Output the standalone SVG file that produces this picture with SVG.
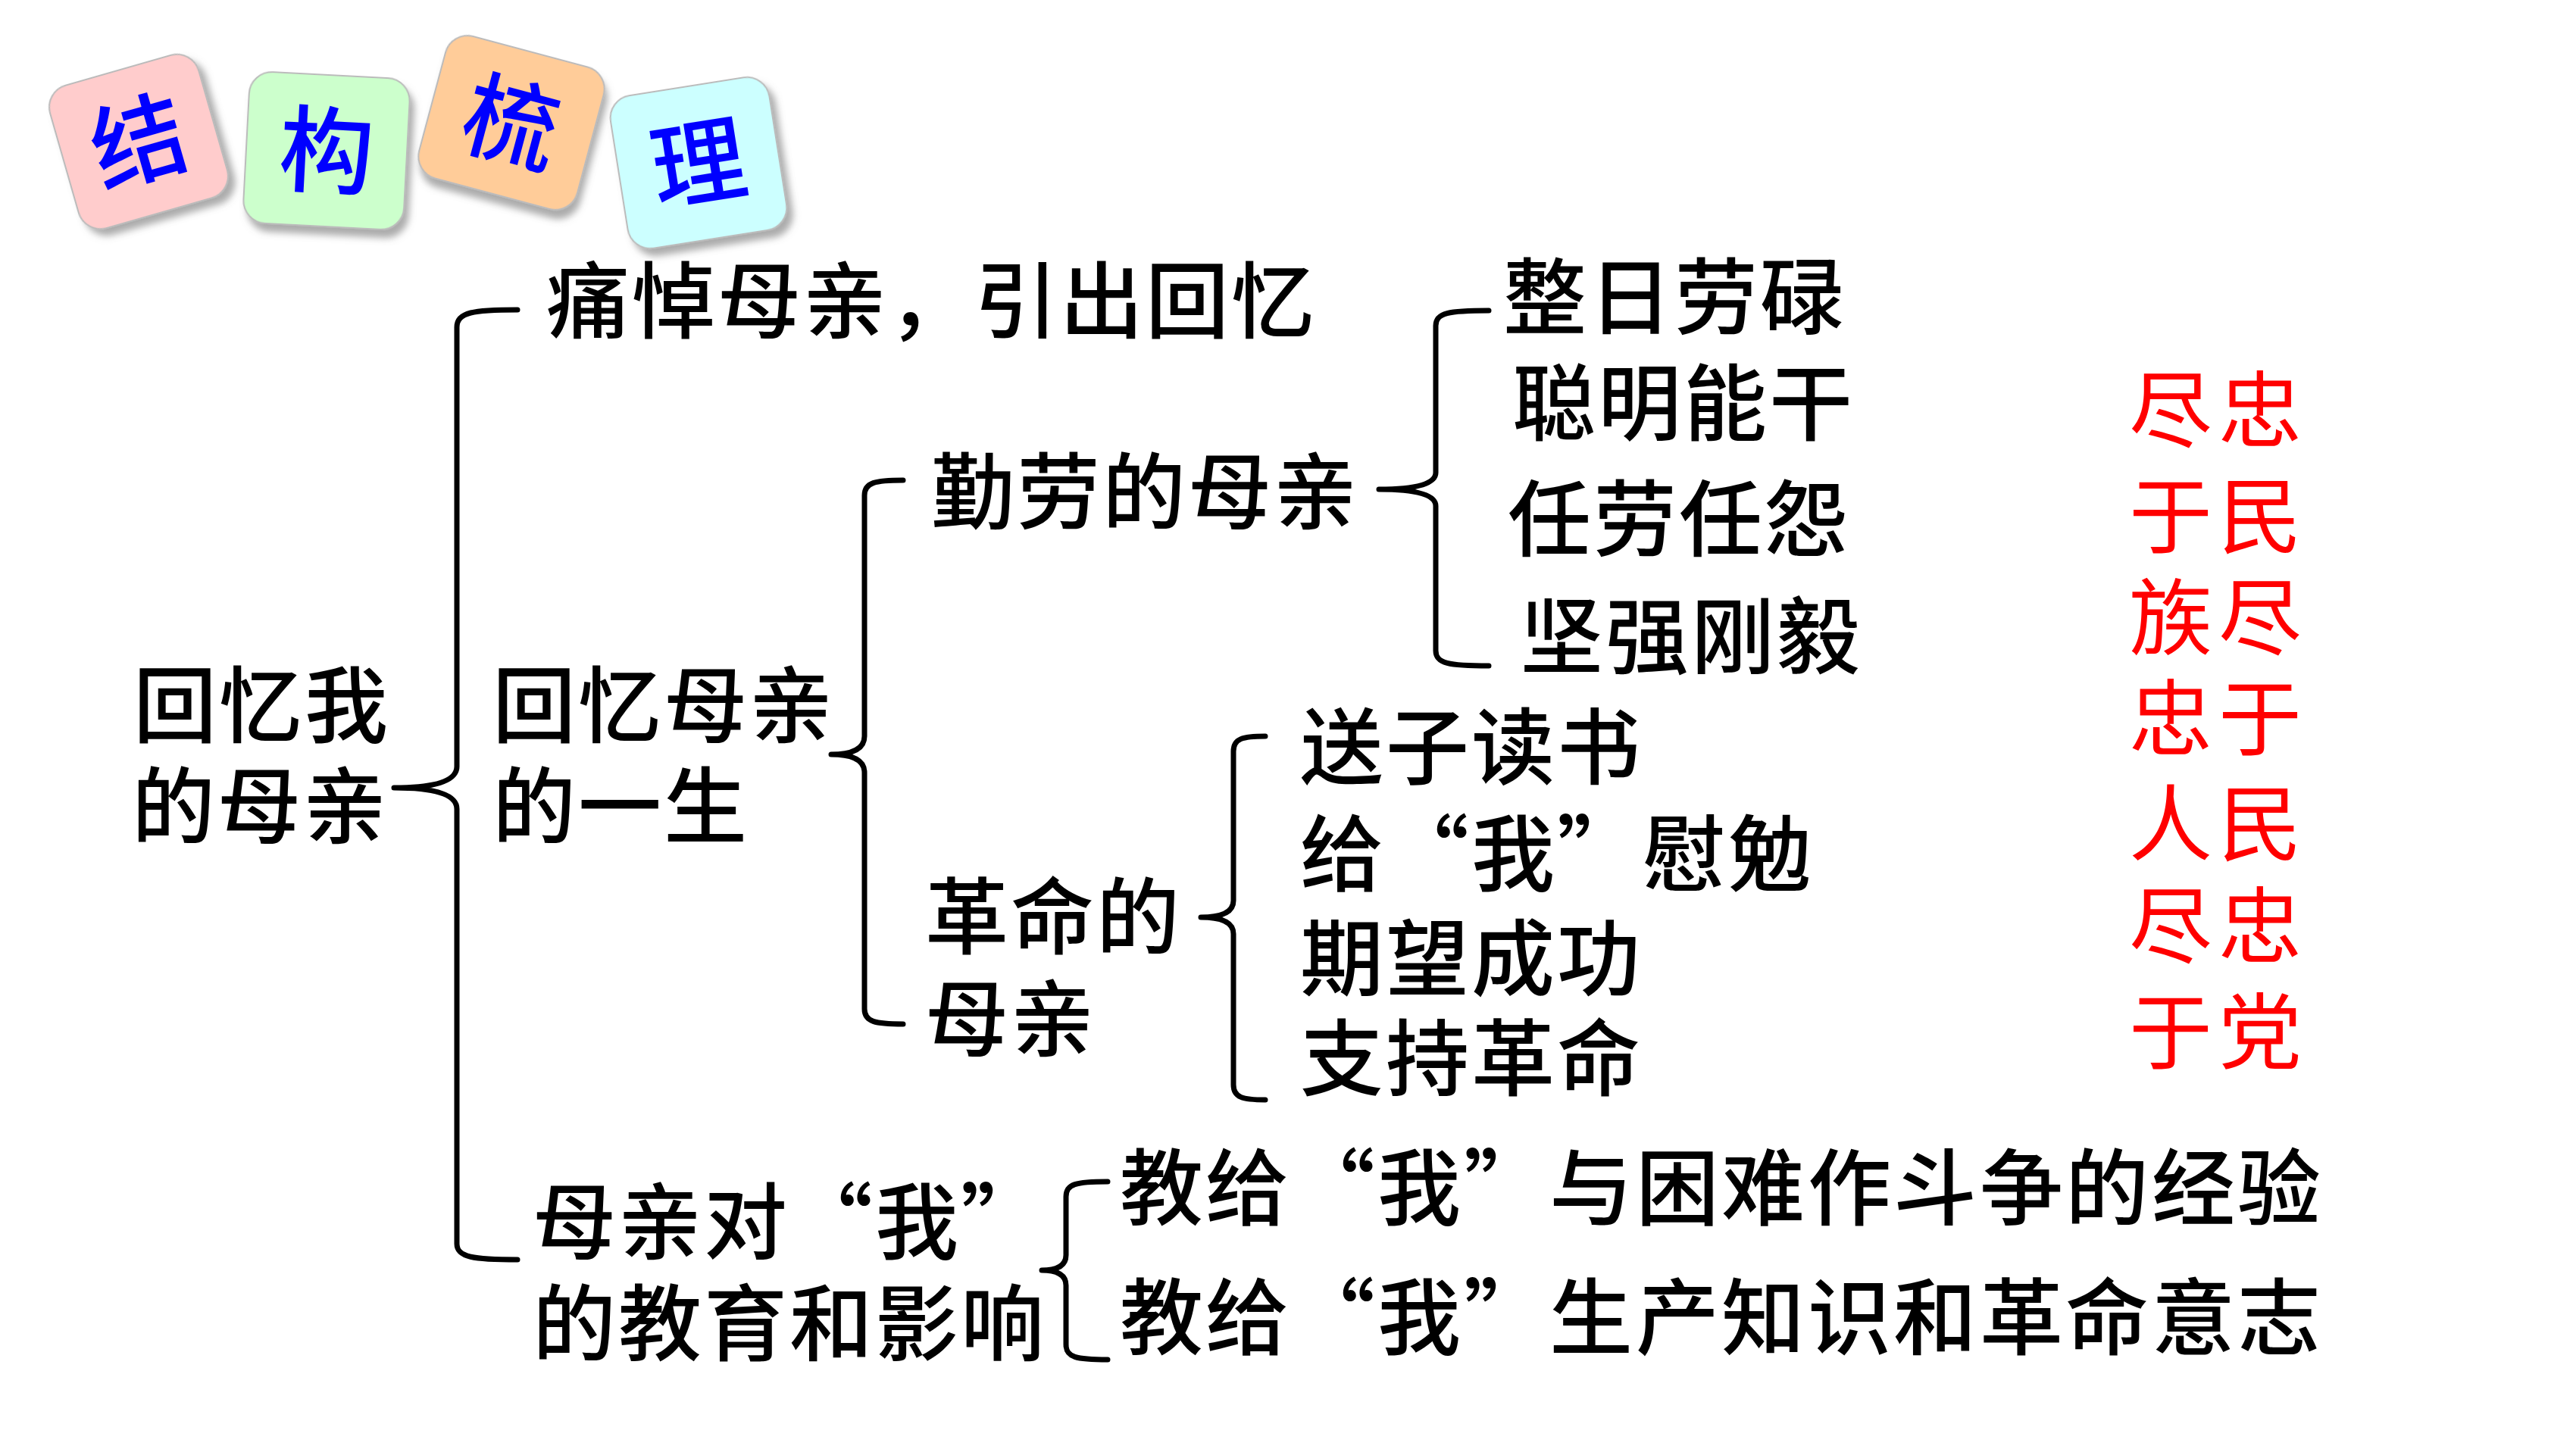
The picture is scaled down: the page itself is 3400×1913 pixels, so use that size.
<svg xmlns="http://www.w3.org/2000/svg" width="3400" height="1913" viewBox="0 0 3400 1913">
<defs>
<filter id="sh" x="-20%" y="-20%" width="150%" height="150%">
<feDropShadow dx="6" dy="10" stdDeviation="5" flood-color="#666666" flood-opacity="0.55"/>
</filter>
</defs>
<style>
.tile{stroke:#BBBBBB;stroke-width:2;filter:url(#sh)}
.tt{font-family:"Noto Sans CJK SC",sans-serif;font-size:125px;font-weight:500;fill:#0000FF;text-anchor:middle}
.t{font-family:"Noto Sans CJK SC",sans-serif;font-size:110px;font-weight:500;fill:#000000;letter-spacing:3px}
.r{font-family:"Noto Sans CJK SC",sans-serif;font-size:110px;fill:#FF0000}
.br{fill:none;stroke:#000000;stroke-width:7;stroke-linecap:round;stroke-linejoin:round}
</style>
<rect x="0" y="0" width="3400" height="1913" fill="#FFFFFF"/>

<g id="title">
<g id="tile-jie" transform="translate(183,187) rotate(-16)">
<rect class="tile" x="-102" y="-98" width="204" height="196" rx="30" fill="#FFCCCC"/>
<text class="tt" x="0" y="46">结</text>
</g>
<g id="tile-gou" transform="translate(431,199) rotate(3)">
<rect class="tile" x="-106" y="-100" width="212" height="200" rx="30" fill="#CCFFCC"/>
<text class="tt" x="0" y="46">构</text>
</g>
<g id="tile-shu" transform="translate(675,162) rotate(15)">
<rect class="tile" x="-108" y="-97" width="216" height="194" rx="30" fill="#FFCC99"/>
<text class="tt" x="0" y="46">梳</text>
</g>
<g id="tile-li" transform="translate(922,215) rotate(-9)">
<rect class="tile" x="-106" y="-102" width="212" height="204" rx="30" fill="#CCFFFF"/>
<text class="tt" x="0" y="46">理</text>
</g>
</g>

<g id="connectors">
<path class="br" d="M683,409 C625,409 603,412 603,432 L603,1012 Q603,1040 520,1040 Q603,1040 603,1068 L603,1642 C603,1660 625,1663 683,1663"/>
<path class="br" d="M1192,634 C1155,634 1141,637 1141,654 L1141,972 Q1141,996 1097,996 Q1141,996 1141,1020 L1141,1332 C1141,1349 1155,1352 1192,1352"/>
<path class="br" d="M1965,410 C1912,410 1895,413 1895,430 L1895,624 Q1895,646 1820,646 Q1895,646 1895,668 L1895,859 C1895,876 1912,879 1965,879"/>
<path class="br" d="M1670,972 C1640,972 1628,975 1628,992 L1628,1189 Q1628,1211 1585,1211 Q1628,1211 1628,1233 L1628,1432 C1628,1449 1640,1452 1670,1452"/>
<path class="br" d="M1462,1560 C1420,1560 1407,1563 1407,1580 L1407,1657 Q1407,1677 1375,1677 Q1407,1677 1407,1697 L1407,1775 C1407,1792 1420,1795 1462,1795"/>
</g>

<g id="root">
<text class="t" x="176" y="972">回忆我</text>
<text class="t" x="174" y="1105">的母亲</text>
</g>
<g id="intro">
<text class="t" x="721" y="438">痛悼母亲，引出回忆</text>
</g>
<g id="life">
<text class="t" x="650" y="972">回忆母亲</text>
<text class="t" x="650" y="1105">的一生</text>
</g>
<g id="diligent">
<text class="t" x="1229" y="690">勤劳的母亲</text>
</g>
<g id="diligent-items">
<text class="t" x="1984" y="433">整日劳碌</text>
<text class="t" x="1996" y="573">聪明能干</text>
<text class="t" x="1990" y="726">任劳任怨</text>
<text class="t" x="2006" y="881">坚强刚毅</text>
</g>
<g id="revolution">
<text class="t" x="1221" y="1251">革命的</text>
<text class="t" x="1221" y="1386">母亲</text>
</g>
<g id="revolution-items">
<text class="t" x="1716" y="1027">送子读书</text>
<text class="t" x="1716 1829 1942 2055 2168 2281" y="1168">给“我”慰勉</text>
<text class="t" x="1716" y="1306">期望成功</text>
<text class="t" x="1716" y="1438">支持革命</text>
</g>
<g id="education">
<text class="t" x="703 816 929 1042 1155 1268" y="1654">母亲对“我”</text>
<text class="t" x="703" y="1788">的教育和影响</text>
</g>
<g id="education-items">
<text class="t" x="1478 1591 1705 1818 1932 2045 2159 2272 2386 2499 2613 2726 2840 2953" y="1609">教给“我”与困难作斗争的经验</text>
<text class="t" x="1478 1591 1705 1818 1932 2045 2159 2272 2386 2499 2613 2726 2840 2953" y="1780">教给“我”生产知识和革命意志</text>
</g>
<g id="slogan">
<text class="r" x="2810 2928" y="582">尽忠</text>
<text class="r" x="2810 2928" y="722">于民</text>
<text class="r" x="2810 2928" y="856">族尽</text>
<text class="r" x="2810 2928" y="989">忠于</text>
<text class="r" x="2810 2928" y="1128">人民</text>
<text class="r" x="2810 2928" y="1263">尽忠</text>
<text class="r" x="2810 2928" y="1403">于党</text>
</g>
</svg>
